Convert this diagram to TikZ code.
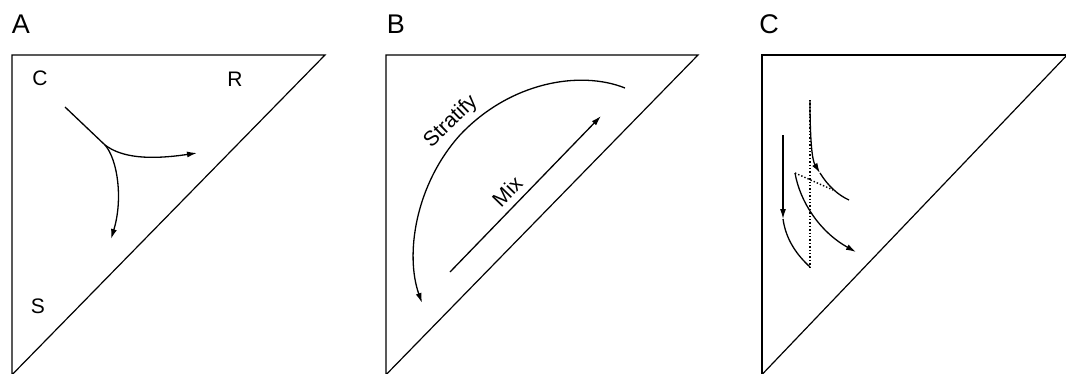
\documentclass[tikz,border=0pt]{standalone}
\usepackage{fontspec}
\setmainfont{Liberation Sans}
\usepackage{tikz}
\usetikzlibrary{positioning,arrows.meta,calc}

\begin{document}
\begin{tikzpicture}[x=1pt,y=-1pt,>={Latex[length=10pt,width=6pt]},
 frame/.style={line width=1.2pt},
 flow/.style={line width=1.3pt},
 guide/.style={line width=1.4pt,dotted},
 lbl/.style={font=\fontsize{21}{24}\selectfont,inner sep=0pt},
 panel/.style={font=\fontsize{27}{30}\selectfont,inner sep=0pt}]
\useasboundingbox (0,0) rectangle (1066,373);
\clip (0,0) rectangle (1066,373);
% panel A
\node[panel] (pA) at (21,24) {A};
\draw[frame] (12,385) -- (12,55) -- (325,55) -- (2,385);
\node[lbl] (cA) at (40,78) {C};
\node[lbl] (rA) at (235,79) {R};
\node[lbl] (sA) at (38,306) {S};
\coordinate (a0) at (65,107);
\coordinate (a1) at (105,145);
\coordinate (aR) at (197,153);
\coordinate (aS) at (111,239);
\draw[flow] (a0) -- (a1);
\draw[flow,->] (a1) .. controls (122,158) and (150,160) .. (aR);
\draw[flow,->] (a1) .. controls (118,160) and (123,200) .. (aS);
% panel B
\node[panel] (pB) at (396,24) {B};
\draw[frame] (386,385) -- (386,55) -- (698,55) -- (376,385);
\coordinate (s0) at (625,88);
\coordinate (s1) at (460,135);
\coordinate (s2) at (422,303);
\draw[flow,->] (s0) .. controls (580,70) and (510,82) .. (s1)
 .. controls (415,185) and (405,255) .. (s2);
\node[lbl,rotate=44] (strat) at (451,122) {Stratify};
\coordinate (m0) at (450,272);
\coordinate (m1) at (601,116);
\draw[flow,->] (m0) -- node[lbl,above=7pt,sloped,pos=0.45] (mix) {Mix} (m1);
% panel C
\node[panel] (pC) at (769,24) {C};
\draw[frame] (762,385) -- (762,55) -- (1070,55);
\draw[frame] (1070,52) -- (752,385);
\coordinate (c0) at (783,135);
\coordinate (c1) at (783,219);
\coordinate (c2) at (810,267);
\coordinate (d0) at (810,100);
\coordinate (d1) at (820,173);
\coordinate (d2) at (849,200);
\coordinate (e0) at (795,173);
\coordinate (e1) at (856,252);
\coordinate (e2) at (833,190);
\draw[guide] (d0) -- (c2);
\draw[guide] (e0) -- (e2);
\draw[flow,->] (c0) -- (c1);
\draw[flow] (c1) .. controls (786,240) and (797,255) .. (c2);
\draw[flow,->] (d0) .. controls (810,140) and (812,160) .. (d1);
\draw[flow] (d1) .. controls (828,186) and (838,195) .. (d2);
\draw[flow,->] (e0) .. controls (800,202) and (820,232) .. (e1);
\end{tikzpicture}
\end{document}
